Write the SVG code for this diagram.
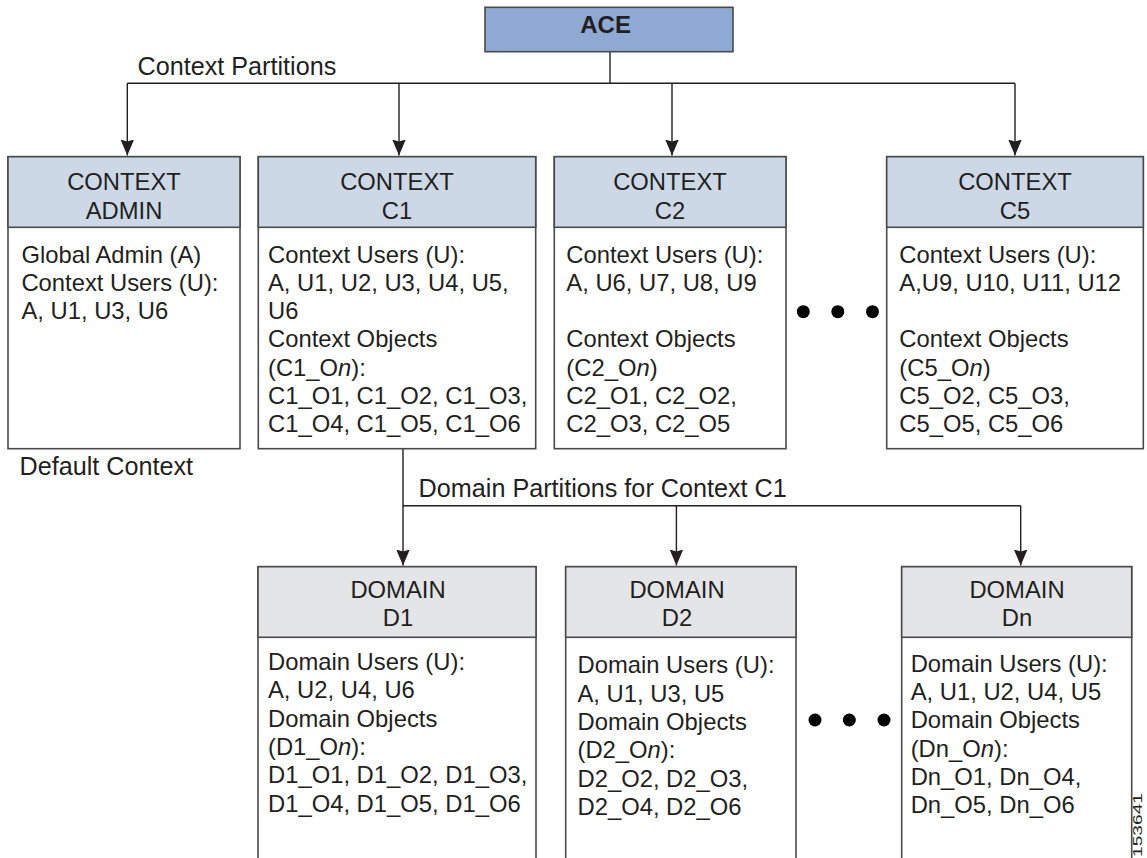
<svg xmlns="http://www.w3.org/2000/svg" width="1147" height="858" viewBox="0 0 1147 858">
<style>
  text { font-family: "Liberation Sans", Arial, Helvetica, sans-serif; fill: #231f20; }
  .hdr { font-size: 23.8px; text-anchor: middle; }
  .body { font-size: 23.8px; }
  .lbl { font-size: 25.2px; }
  .box { fill: #ffffff; stroke: #4a4a4a; stroke-width: 1.6; }
  .ctxh { fill: #cdd8e7; stroke: #4a4a4a; stroke-width: 1.6; }
  .domh { fill: #e4e5e7; stroke: #4a4a4a; stroke-width: 1.6; }
  .conn { fill: none; stroke: #231f20; stroke-width: 1.4; }
  .arr { fill: none; stroke: #231f20; stroke-width: 1.4; marker-end: url(#ah); }
  .dot { fill: #000000; }
  .it { font-style: italic; }
</style>
<defs>
  <marker id="ah" markerUnits="userSpaceOnUse" markerWidth="16" markerHeight="14" refX="16" refY="6.8" orient="auto">
    <path d="M0,0 L16,6.8 L0,13.6 L2,6.8 z" fill="#231f20"/>
  </marker>
</defs>

<g id="connectors">
  <path class="conn" d="M610,52 V83.3"/>
  <path class="conn" d="M127.3,83.3 H1015"/>
  <path class="arr" d="M127.3,83.3 V155.5"/>
  <path class="arr" d="M399,83.3 V155.5"/>
  <path class="arr" d="M672,83.3 V155.5"/>
  <path class="arr" d="M1015,83.3 V155.5"/>
  <path class="arr" d="M403,449 V565.5"/>
  <path class="conn" d="M403,505.7 H1020.7"/>
  <path class="arr" d="M676.4,505.7 V565.5"/>
  <path class="arr" d="M1020.7,505.7 V565.5"/>
</g>

<g id="labels">
  <text class="lbl" x="137.5" y="75">Context Partitions</text>
  <text class="lbl" x="19.5" y="475">Default Context</text>
  <text class="lbl" x="418.6" y="496.7">Domain Partitions for Context C1</text>
</g>

<g id="ace">
  <rect x="485" y="7.3" width="248" height="44.4" fill="#8eaad3" stroke="#4a4a4a" stroke-width="1.6"/>
  <text x="605.6" y="33.3" font-size="24" font-weight="bold" text-anchor="middle">ACE</text>
</g>

<g id="ctx-admin">
  <rect class="box" x="8" y="156.7" width="232" height="292"/>
  <rect class="ctxh" x="8" y="156.7" width="232" height="70.6"/>
  <text class="hdr" x="124" y="190">CONTEXT</text>
  <text class="hdr" x="124" y="219">ADMIN</text>
  <text class="body" x="21.4" y="262.5">Global Admin (A)</text>
  <text class="body" x="21.4" y="290.8">Context Users (U):</text>
  <text class="body" x="21.4" y="319.1">A, U1, U3, U6</text>
</g>

<g id="ctx-c1">
  <rect class="box" x="258.3" y="156.7" width="277.4" height="292"/>
  <rect class="ctxh" x="258.3" y="156.7" width="277.4" height="70.6"/>
  <text class="hdr" x="397" y="190">CONTEXT</text>
  <text class="hdr" x="397" y="219">C1</text>
  <text class="body" x="268" y="262.5">Context Users (U):</text>
  <text class="body" x="268" y="290.8">A, U1, U2, U3, U4, U5,</text>
  <text class="body" x="268" y="319.1">U6</text>
  <text class="body" x="268" y="347.4">Context Objects</text>
  <text class="body" x="268" y="375.7">(C1_O<tspan class="it">n</tspan>):</text>
  <text class="body" x="268" y="404">C1_O1, C1_O2, C1_O3,</text>
  <text class="body" x="268" y="432.3">C1_O4, C1_O5, C1_O6</text>
</g>

<g id="ctx-c2">
  <rect class="box" x="554.3" y="156.7" width="231.7" height="292"/>
  <rect class="ctxh" x="554.3" y="156.7" width="231.7" height="70.6"/>
  <text class="hdr" x="670" y="190">CONTEXT</text>
  <text class="hdr" x="670" y="219">C2</text>
  <text class="body" x="566.3" y="262.5">Context Users (U):</text>
  <text class="body" x="566.3" y="290.8">A, U6, U7, U8, U9</text>
  <text class="body" x="566.3" y="347.4">Context Objects</text>
  <text class="body" x="566.3" y="375.7">(C2_O<tspan class="it">n</tspan>)</text>
  <text class="body" x="566.3" y="404">C2_O1, C2_O2,</text>
  <text class="body" x="566.3" y="432.3">C2_O3, C2_O5</text>
</g>

<g id="ctx-dots">
  <circle class="dot" cx="803.3" cy="311.7" r="6.5"/>
  <circle class="dot" cx="837.8" cy="311.7" r="6.5"/>
  <circle class="dot" cx="872.5" cy="311.7" r="6.5"/>
</g>

<g id="ctx-c5">
  <rect class="box" x="886.7" y="156.7" width="256.6" height="292"/>
  <rect class="ctxh" x="886.7" y="156.7" width="256.6" height="70.6"/>
  <text class="hdr" x="1015" y="190">CONTEXT</text>
  <text class="hdr" x="1015" y="219">C5</text>
  <text class="body" x="899.3" y="262.5">Context Users (U):</text>
  <text class="body" x="899.3" y="290.8">A,U9, U10, U11, U12</text>
  <text class="body" x="899.3" y="347.4">Context Objects</text>
  <text class="body" x="899.3" y="375.7">(C5_O<tspan class="it">n</tspan>)</text>
  <text class="body" x="899.3" y="404">C5_O2, C5_O3,</text>
  <text class="body" x="899.3" y="432.3">C5_O5, C5_O6</text>
</g>

<g id="dom-d1">
  <rect class="box" x="258" y="566.7" width="278" height="310"/>
  <rect class="domh" x="258" y="566.7" width="278" height="70.6"/>
  <text class="hdr" x="398" y="598.3">DOMAIN</text>
  <text class="hdr" x="398" y="626">D1</text>
  <text class="body" x="268" y="670">Domain Users (U):</text>
  <text class="body" x="268" y="698.3">A, U2, U4, U6</text>
  <text class="body" x="268" y="726.7">Domain Objects</text>
  <text class="body" x="268" y="755">(D1_O<tspan class="it">n</tspan>):</text>
  <text class="body" x="268" y="783.3">D1_O1, D1_O2, D1_O3,</text>
  <text class="body" x="268" y="811.7">D1_O4, D1_O5, D1_O6</text>
</g>

<g id="dom-d2">
  <rect class="box" x="565.7" y="566.7" width="230.3" height="310"/>
  <rect class="domh" x="565.7" y="566.7" width="230.3" height="70.6"/>
  <text class="hdr" x="677" y="598.3">DOMAIN</text>
  <text class="hdr" x="677" y="626">D2</text>
  <text class="body" x="577.5" y="673.3">Domain Users (U):</text>
  <text class="body" x="577.5" y="701.7">A, U1, U3, U5</text>
  <text class="body" x="577.5" y="730">Domain Objects</text>
  <text class="body" x="577.5" y="758.3">(D2_O<tspan class="it">n</tspan>):</text>
  <text class="body" x="577.5" y="786.7">D2_O2, D2_O3,</text>
  <text class="body" x="577.5" y="815">D2_O4, D2_O6</text>
</g>

<g id="dom-dots">
  <circle class="dot" cx="815" cy="720" r="6.5"/>
  <circle class="dot" cx="849.3" cy="720" r="6.5"/>
  <circle class="dot" cx="884" cy="720" r="6.5"/>
</g>

<g id="dom-dn">
  <rect class="box" x="901.7" y="566.7" width="230" height="310"/>
  <rect class="domh" x="901.7" y="566.7" width="230" height="70.6"/>
  <text class="hdr" x="1017" y="598.3">DOMAIN</text>
  <text class="hdr" x="1017" y="626">Dn</text>
  <text class="body" x="910.7" y="671.7">Domain Users (U):</text>
  <text class="body" x="910.7" y="700">A, U1, U2, U4, U5</text>
  <text class="body" x="910.7" y="728.3">Domain Objects</text>
  <text class="body" x="910.7" y="756.7">(Dn_O<tspan class="it">n</tspan>):</text>
  <text class="body" x="910.7" y="785">Dn_O1, Dn_O4,</text>
  <text class="body" x="910.7" y="813.3">Dn_O5, Dn_O6</text>
</g>

<g id="figure-id">
  <text transform="translate(1142,857) rotate(-90)" x="0" y="0" font-size="13" textLength="64" lengthAdjust="spacingAndGlyphs">153641</text>
</g>
</svg>
